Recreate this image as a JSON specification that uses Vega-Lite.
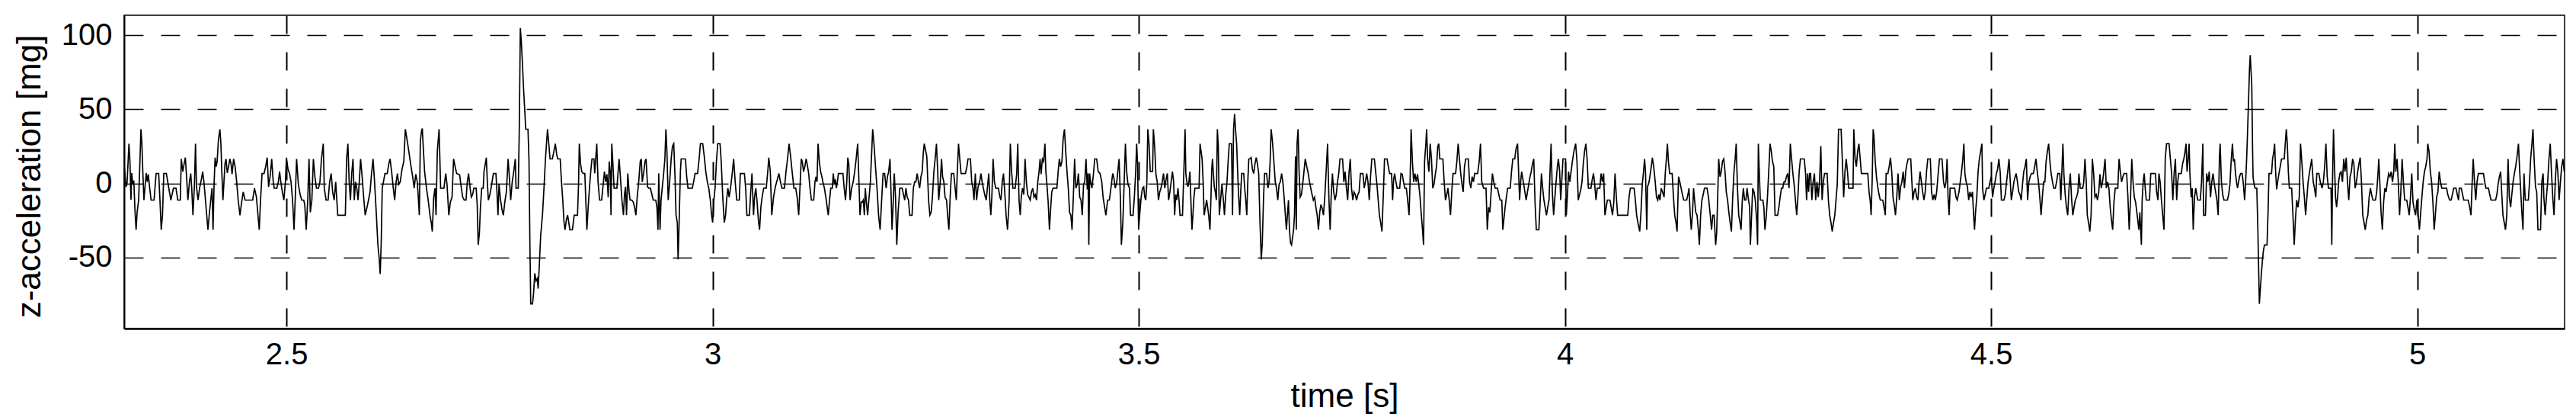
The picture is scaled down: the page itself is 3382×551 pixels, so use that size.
{
"$schema": "https://vega.github.io/schema/vega-lite/v6.json",
"width": 3204,
"height": 411,
"autosize": {"type": "none"},
"padding": {"left": 163, "top": 20, "right": 15, "bottom": 120},
"background": "white",
"config": {
  "font": "Liberation Sans",
  "view": {"stroke": "black", "strokeWidth": 1.5}
},
"data": {"values": [
{"t":2.3096,"a":13.1},{"t":2.3105,"a":6.2},{"t":2.3117,"a":-2.4},{"t":2.3129,"a":-0.7},{"t":2.3141,"a":13.1},{"t":2.3152,"a":26.8},{"t":2.3164,"a":14.8},{"t":2.3176,"a":-11},{"t":2.3185,"a":7},{"t":2.3197,"a":-0.7},{"t":2.3209,"a":1.9},{"t":2.3224,"a":-19.6},{"t":2.3236,"a":-31.4},{"t":2.3248,"a":-19.6},{"t":2.3266,"a":-11.3},{"t":2.3281,"a":14.8},{"t":2.3293,"a":36.6},{"t":2.3304,"a":26.8},{"t":2.3316,"a":6.2},{"t":2.3328,"a":-11.3},{"t":2.3343,"a":-0.7},{"t":2.3355,"a":7},{"t":2.3367,"a":1},{"t":2.3379,"a":6.2},{"t":2.3394,"a":-2.4},{"t":2.3412,"a":-11.3},{"t":2.3447,"a":-11.3},{"t":2.3471,"a":6.7},{"t":2.3501,"a":6.7},{"t":2.3516,"a":-11.3},{"t":2.3531,"a":-31.4},{"t":2.3546,"a":-21.3},{"t":2.3561,"a":6.7},{"t":2.3591,"a":6.7},{"t":2.3620,"a":-3.3},{"t":2.3644,"a":-11.3},{"t":2.3674,"a":-3.3},{"t":2.3704,"a":-3.3},{"t":2.3725,"a":-11.3},{"t":2.3755,"a":-11.3},{"t":2.3766,"a":16.5},{"t":2.3784,"a":7.9},{"t":2.3799,"a":13.1},{"t":2.3814,"a":17.4},{"t":2.3832,"a":1},{"t":2.3844,"a":-11.3},{"t":2.3862,"a":1},{"t":2.3877,"a":6.7},{"t":2.3889,"a":-3.3},{"t":2.3903,"a":-21.5},{"t":2.3921,"a":-0.7},{"t":2.3933,"a":26.8},{"t":2.3945,"a":-2.4},{"t":2.3963,"a":-11.3},{"t":2.3981,"a":-3.3},{"t":2.4002,"a":2.7},{"t":2.4017,"a":7.9},{"t":2.4032,"a":1},{"t":2.4052,"a":-12.7},{"t":2.4079,"a":-31.4},{"t":2.4094,"a":-21.5},{"t":2.4112,"a":-11.3},{"t":2.4127,"a":-3.3},{"t":2.4139,"a":-31.4},{"t":2.4151,"a":-0.7},{"t":2.4163,"a":17.4},{"t":2.4175,"a":11.3},{"t":2.4187,"a":14.8},{"t":2.4201,"a":28.5},{"t":2.4219,"a":36.6},{"t":2.4231,"a":26.8},{"t":2.4243,"a":6.2},{"t":2.4255,"a":-11.3},{"t":2.4267,"a":1},{"t":2.4279,"a":13.1},{"t":2.4291,"a":16.5},{"t":2.4306,"a":7},{"t":2.4321,"a":11.3},{"t":2.4336,"a":16.5},{"t":2.4350,"a":13.1},{"t":2.4362,"a":6.2},{"t":2.4380,"a":16.5},{"t":2.4398,"a":11.3},{"t":2.4416,"a":1},{"t":2.4434,"a":-11.3},{"t":2.4455,"a":-21.5},{"t":2.4470,"a":-14.4},{"t":2.4493,"a":-5.8},{"t":2.4514,"a":-11.3},{"t":2.4604,"a":-11.3},{"t":2.4625,"a":-3.3},{"t":2.4648,"a":-9.3},{"t":2.4666,"a":-21.5},{"t":2.4681,"a":-31.4},{"t":2.4696,"a":-11.3},{"t":2.4714,"a":6.7},{"t":2.4738,"a":6.7},{"t":2.4756,"a":11.3},{"t":2.4774,"a":17.4},{"t":2.4791,"a":-2.4},{"t":2.4812,"a":6.2},{"t":2.4827,"a":16.5},{"t":2.4845,"a":1},{"t":2.4857,"a":-3.3},{"t":2.4887,"a":-3.3},{"t":2.4905,"a":1},{"t":2.4920,"a":7.9},{"t":2.4934,"a":1},{"t":2.4952,"a":-5.8},{"t":2.4970,"a":-11.3},{"t":2.4988,"a":1},{"t":2.5000,"a":17.4},{"t":2.5018,"a":9.6},{"t":2.5036,"a":6.7},{"t":2.5054,"a":1},{"t":2.5072,"a":-11.3},{"t":2.5089,"a":-31.4},{"t":2.5104,"a":-9.3},{"t":2.5119,"a":16.5},{"t":2.5140,"a":-0.7},{"t":2.5161,"a":-7.6},{"t":2.5179,"a":-11.3},{"t":2.5203,"a":-11.3},{"t":2.5215,"a":-14.4},{"t":2.5232,"a":-31.4},{"t":2.5250,"a":-11.3},{"t":2.5265,"a":16.5},{"t":2.5280,"a":-19.6},{"t":2.5298,"a":-11.3},{"t":2.5316,"a":16.5},{"t":2.5334,"a":4.5},{"t":2.5352,"a":-3.3},{"t":2.5376,"a":-3.3},{"t":2.5393,"a":1},{"t":2.5411,"a":16.5},{"t":2.5432,"a":26.8},{"t":2.5444,"a":-3.3},{"t":2.5465,"a":-11.3},{"t":2.5489,"a":-11.3},{"t":2.5507,"a":1},{"t":2.5525,"a":6.7},{"t":2.5542,"a":-5.8},{"t":2.5560,"a":-11.3},{"t":2.5578,"a":1},{"t":2.5602,"a":-21.5},{"t":2.5691,"a":-21.5},{"t":2.5706,"a":16.5},{"t":2.5721,"a":26.8},{"t":2.5736,"a":1},{"t":2.5751,"a":-11.3},{"t":2.5766,"a":6.7},{"t":2.5781,"a":16.5},{"t":2.5796,"a":-11.3},{"t":2.5811,"a":1},{"t":2.5826,"a":-3.3},{"t":2.5840,"a":-11.3},{"t":2.5855,"a":1},{"t":2.5870,"a":16.5},{"t":2.5888,"a":4.5},{"t":2.5906,"a":-9.3},{"t":2.5924,"a":-21.5},{"t":2.5945,"a":-16.2},{"t":2.5963,"a":-11.3},{"t":2.5981,"a":-5.8},{"t":2.5998,"a":6.2},{"t":2.6016,"a":16.5},{"t":2.6034,"a":1},{"t":2.6055,"a":-21.3},{"t":2.6073,"a":-41.6},{"t":2.6088,"a":-50.5},{"t":2.6100,"a":-61.2},{"t":2.6112,"a":-40.2},{"t":2.6124,"a":-3.3},{"t":2.6138,"a":1},{"t":2.6156,"a":6.7},{"t":2.6183,"a":6.7},{"t":2.6201,"a":13.1},{"t":2.6216,"a":16.5},{"t":2.6234,"a":7.9},{"t":2.6252,"a":-2.4},{"t":2.6270,"a":-11.3},{"t":2.6287,"a":1},{"t":2.6302,"a":6.7},{"t":2.6317,"a":-0.7},{"t":2.6335,"a":1},{"t":2.6356,"a":9.6},{"t":2.6377,"a":14.8},{"t":2.6395,"a":36.6},{"t":2.6413,"a":30.2},{"t":2.6436,"a":21.6},{"t":2.6457,"a":13.1},{"t":2.6481,"a":4.5},{"t":2.6499,"a":-3.3},{"t":2.6517,"a":6.2},{"t":2.6535,"a":1},{"t":2.6547,"a":-9.3},{"t":2.6559,"a":-21.5},{"t":2.6571,"a":28.5},{"t":2.6585,"a":35.4},{"t":2.6594,"a":37.1},{"t":2.6603,"a":26.8},{"t":2.6621,"a":7.9},{"t":2.6645,"a":-4.1},{"t":2.6663,"a":-11.3},{"t":2.6684,"a":-21.5},{"t":2.6699,"a":-26.5},{"t":2.6711,"a":-32.5},{"t":2.6728,"a":-9.3},{"t":2.6743,"a":-3.3},{"t":2.6755,"a":-21.5},{"t":2.6770,"a":21.6},{"t":2.6791,"a":36.6},{"t":2.6809,"a":-3.3},{"t":2.6848,"a":-3.3},{"t":2.6869,"a":6.7},{"t":2.6884,"a":-0.7},{"t":2.6905,"a":-21.5},{"t":2.6923,"a":-12.7},{"t":2.6943,"a":-9.3},{"t":2.6961,"a":16.5},{"t":2.6979,"a":11.3},{"t":2.6997,"a":6.7},{"t":2.7032,"a":5.8},{"t":2.7050,"a":-2.4},{"t":2.7068,"a":-9.3},{"t":2.7086,"a":-11.3},{"t":2.7107,"a":-11.3},{"t":2.7122,"a":1},{"t":2.7137,"a":6.7},{"t":2.7155,"a":-3.3},{"t":2.7169,"a":-9.3},
{"t":2.7184,"a":-7.6},{"t":2.7199,"a":-3.3},{"t":2.7226,"a":-3.3},{"t":2.7238,"a":-14.4},{"t":2.7250,"a":-41.6},{"t":2.7264,"a":-33.3},{"t":2.7276,"a":-16.2},{"t":2.7291,"a":-3.3},{"t":2.7309,"a":-3.3},{"t":2.7318,"a":7.9},{"t":2.7333,"a":13.1},{"t":2.7345,"a":17.4},{"t":2.7357,"a":1},{"t":2.7369,"a":-11.3},{"t":2.7387,"a":-7.6},{"t":2.7408,"a":-0.7},{"t":2.7428,"a":6.7},{"t":2.7458,"a":6.7},{"t":2.7470,"a":-5.8},{"t":2.7482,"a":-21.5},{"t":2.7494,"a":-0.7},{"t":2.7512,"a":-11.3},{"t":2.7530,"a":-17.9},{"t":2.7545,"a":-21.5},{"t":2.7562,"a":-12.7},{"t":2.7580,"a":-5.8},{"t":2.7601,"a":16.5},{"t":2.7619,"a":1},{"t":2.7631,"a":-11.3},{"t":2.7649,"a":1},{"t":2.7667,"a":7.9},{"t":2.7685,"a":16.5},{"t":2.7694,"a":-3.3},{"t":2.7720,"a":-3.3},{"t":2.7732,"a":37.1},{"t":2.7744,"a":105},{"t":2.7756,"a":95.5},{"t":2.7768,"a":81.8},{"t":2.7783,"a":62.9},{"t":2.7798,"a":47.4},{"t":2.7807,"a":36.6},{"t":2.7834,"a":36.6},{"t":2.7846,"a":14.8},{"t":2.7857,"a":-43.6},{"t":2.7866,"a":-81.4},{"t":2.7887,"a":-81.4},{"t":2.7899,"a":-74.6},{"t":2.7914,"a":-60.8},{"t":2.7929,"a":-66},{"t":2.7944,"a":-64.3},{"t":2.7953,"a":-71.1},{"t":2.7965,"a":-57.4},{"t":2.7983,"a":-35.1},{"t":2.8004,"a":-21.3},{"t":2.8024,"a":-0.7},{"t":2.8039,"a":16.5},{"t":2.8051,"a":26.8},{"t":2.8063,"a":36.6},{"t":2.8078,"a":26.8},{"t":2.8093,"a":16.5},{"t":2.8120,"a":16.5},{"t":2.8138,"a":21.6},{"t":2.8155,"a":26.8},{"t":2.8170,"a":19.9},{"t":2.8182,"a":16.5},{"t":2.8212,"a":16.5},{"t":2.8227,"a":1},{"t":2.8242,"a":-11.3},{"t":2.8257,"a":-26.5},{"t":2.8269,"a":-31.4},{"t":2.8284,"a":-24.7},{"t":2.8299,"a":-21.5},{"t":2.8313,"a":-26.5},{"t":2.8325,"a":-31.4},{"t":2.8355,"a":-31.4},{"t":2.8376,"a":-21.5},{"t":2.8415,"a":-21.5},{"t":2.8427,"a":-0.7},{"t":2.8436,"a":26.8},{"t":2.8451,"a":13.1},{"t":2.8465,"a":7.9},{"t":2.8483,"a":6.7},{"t":2.8501,"a":6.7},{"t":2.8513,"a":-12.7},{"t":2.8525,"a":-31.4},{"t":2.8540,"a":-16.2},{"t":2.8555,"a":-3.3},{"t":2.8570,"a":7.9},{"t":2.8585,"a":16.5},{"t":2.8608,"a":16.5},{"t":2.8617,"a":6.7},{"t":2.8629,"a":17.4},{"t":2.8641,"a":26.8},{"t":2.8656,"a":1},{"t":2.8674,"a":-11.3},{"t":2.8698,"a":-11.3},{"t":2.8716,"a":-0.7},{"t":2.8731,"a":7.9},{"t":2.8746,"a":1},{"t":2.8760,"a":6.2},{"t":2.8775,"a":-9.3},{"t":2.8787,"a":14.8},{"t":2.8799,"a":7.9},{"t":2.8808,"a":-21.5},{"t":2.8817,"a":26.8},{"t":2.8832,"a":11.3},{"t":2.8844,"a":-3.3},{"t":2.8877,"a":-3.3},{"t":2.8889,"a":6.2},{"t":2.8903,"a":16.5},{"t":2.8918,"a":4.5},{"t":2.8936,"a":-11.3},{"t":2.8954,"a":-21.5},{"t":2.8966,"a":-7.6},{"t":2.8978,"a":-2.4},{"t":2.8990,"a":-21.5},{"t":2.9005,"a":6.7},{"t":2.9020,"a":-5.8},{"t":2.9032,"a":-11.3},{"t":2.9052,"a":-11.3},{"t":2.9070,"a":-12.7},{"t":2.9085,"a":-16.2},{"t":2.9100,"a":-21.5},{"t":2.9115,"a":-9.3},{"t":2.9133,"a":1},{"t":2.9151,"a":14.8},{"t":2.9163,"a":16.5},{"t":2.9175,"a":1},{"t":2.9193,"a":7.9},{"t":2.9207,"a":14.8},{"t":2.9219,"a":16.5},{"t":2.9237,"a":-2.4},{"t":2.9252,"a":-3.3},{"t":2.9270,"a":-3.3},{"t":2.9288,"a":-7.6},{"t":2.9303,"a":-11.3},{"t":2.9333,"a":-11.3},{"t":2.9347,"a":-16.2},{"t":2.9359,"a":-31.4},{"t":2.9368,"a":6.7},{"t":2.9383,"a":-31.4},{"t":2.9395,"a":-11.3},{"t":2.9410,"a":-2.4},{"t":2.9425,"a":6.2},{"t":2.9440,"a":16.5},{"t":2.9452,"a":36.6},{"t":2.9464,"a":21.6},{"t":2.9479,"a":-11.3},{"t":2.9494,"a":-0.7},{"t":2.9514,"a":16.5},{"t":2.9529,"a":25.1},{"t":2.9544,"a":26.8},{"t":2.9559,"a":4.5},{"t":2.9571,"a":-21.5},{"t":2.9586,"a":-26.5},{"t":2.9595,"a":-51.4},{"t":2.9607,"a":-26.5},{"t":2.9622,"a":7.9},{"t":2.9631,"a":16.5},{"t":2.9681,"a":16.5},{"t":2.9696,"a":4.5},{"t":2.9711,"a":-3.3},{"t":2.9762,"a":-3.3},{"t":2.9777,"a":1},{"t":2.9794,"a":6.7},{"t":2.9824,"a":6.7},{"t":2.9842,"a":16.5},{"t":2.9857,"a":26.8},{"t":2.9884,"a":26.8},{"t":2.9902,"a":18.2},{"t":2.9920,"a":7.9},{"t":2.9938,"a":1},{"t":2.9955,"a":-3.3},{"t":2.9973,"a":-11.3},{"t":2.9988,"a":-21.3},{"t":3.0000,"a":-26.5},{"t":3.0015,"a":-11.3},{"t":3.0030,"a":-2.4},{"t":3.0045,"a":14.8},{"t":3.0060,"a":26.8},{"t":3.0087,"a":26.8},{"t":3.0101,"a":14.8},{"t":3.0119,"a":-9.3},{"t":3.0137,"a":-26.5},{"t":3.0152,"a":-21.5},{"t":3.0164,"a":-11.3},{"t":3.0179,"a":-3.3},{"t":3.0194,"a":-9.3},{"t":3.0212,"a":-2.4},{"t":3.0230,"a":6.7},{"t":3.0247,"a":16.5},{"t":3.0265,"a":1},{"t":3.0283,"a":-11.3},{"t":3.0313,"a":-11.3},{"t":3.0325,"a":6.7},{"t":3.0373,"a":6.7},{"t":3.0388,"a":-3.3},{"t":3.0402,"a":-21.5},{"t":3.0432,"a":-21.5},{"t":3.0447,"a":-5.8},{"t":3.0462,"a":6.7},{"t":3.0480,"a":-21.5},{"t":3.0492,"a":-9.3},{"t":3.0507,"a":-3.3},{"t":3.0522,"a":-12.7},{"t":3.0537,"a":-24.7},{"t":3.0551,"a":-31.4},{"t":3.0566,"a":-16.2},{"t":3.0581,"a":-9.3},{"t":3.0599,"a":-3.3},{"t":3.0629,"a":-3.3},{"t":3.0647,"a":7.9},{"t":3.0659,"a":17.4},{"t":3.0677,"a":7.9},{"t":3.0694,"a":-21.5},{"t":3.0715,"a":-9.3},{"t":3.0736,"a":-2.4},{"t":3.0760,"a":2.7},{"t":3.0778,"a":6.7},{"t":3.0796,"a":1},{"t":3.0814,"a":-3.3},{"t":3.0843,"a":-3.3},{"t":3.0861,"a":7.9},{"t":3.0879,"a":16.5},{"t":3.0897,"a":26.8},{"t":3.0915,"a":18.2},{"t":3.0933,"a":7.9},{"t":3.0954,"a":-3.3},{"t":3.0975,"a":-3.3},{"t":3.0992,"a":-9.3},{"t":3.1010,"a":-21.5},{"t":3.1028,"a":1},{"t":3.1040,"a":16.5},{"t":3.1052,"a":14.8},{"t":3.1067,"a":7.9},{"t":3.1082,"a":11.3},{"t":3.1097,"a":16.5},{"t":3.1112,"a":12.2},{"t":3.1127,"a":6.7},{"t":3.1141,"a":-2.4},{"t":3.1159,"a":-11.3},{"t":3.1186,"a":-11.3},{"t":3.1201,"a":1},{"t":3.1213,"a":4.5},{"t":3.1225,"a":1},{"t":3.1237,"a":26.8},{"t":3.1252,"a":14.8},{"t":3.1267,"a":7.9},{"t":3.1282,"a":4.5},
{"t":3.1297,"a":0},{"t":3.1312,"a":-3.3},{"t":3.1333,"a":-11.3},{"t":3.1357,"a":-21.5},{"t":3.1372,"a":-11.3},{"t":3.1386,"a":-3.3},{"t":3.1404,"a":-3.3},{"t":3.1416,"a":6.7},{"t":3.1428,"a":-0.7},{"t":3.1440,"a":2.7},{"t":3.1452,"a":-3.3},{"t":3.1464,"a":1},{"t":3.1476,"a":6.7},{"t":3.1529,"a":6.7},{"t":3.1544,"a":-3.3},{"t":3.1559,"a":-11.3},{"t":3.1574,"a":1},{"t":3.1586,"a":17.4},{"t":3.1598,"a":13.1},{"t":3.1613,"a":-11.3},{"t":3.1631,"a":-3.3},{"t":3.1649,"a":1},{"t":3.1667,"a":7.9},{"t":3.1684,"a":16.5},{"t":3.1702,"a":26.8},{"t":3.1717,"a":1},{"t":3.1729,"a":-21.5},{"t":3.1744,"a":-12.7},{"t":3.1756,"a":-12.7},{"t":3.1768,"a":-11.3},{"t":3.1780,"a":-21.5},{"t":3.1792,"a":-3.3},{"t":3.1804,"a":-12.7},{"t":3.1819,"a":-21.5},{"t":3.1833,"a":-11.3},{"t":3.1851,"a":1},{"t":3.1863,"a":16.5},{"t":3.1878,"a":36.6},{"t":3.1893,"a":26.8},{"t":3.1911,"a":11.3},{"t":3.1929,"a":-3.3},{"t":3.1947,"a":-21.5},{"t":3.1965,"a":-31.4},{"t":3.1982,"a":-12.7},{"t":3.2000,"a":6.7},{"t":3.2018,"a":6.7},{"t":3.2036,"a":-3.3},{"t":3.2051,"a":4.5},{"t":3.2066,"a":7.9},{"t":3.2081,"a":16.5},{"t":3.2096,"a":-11.3},{"t":3.2105,"a":-31.4},{"t":3.2119,"a":-12.7},{"t":3.2131,"a":6.7},{"t":3.2146,"a":-9.3},{"t":3.2161,"a":-41.6},{"t":3.2176,"a":-19.6},{"t":3.2197,"a":-3.3},{"t":3.2224,"a":-3.3},{"t":3.2239,"a":-7.6},{"t":3.2254,"a":-11.3},{"t":3.2268,"a":-3.3},{"t":3.2283,"a":-9.3},{"t":3.2298,"a":-11.3},{"t":3.2313,"a":-21.5},{"t":3.2340,"a":-21.5},{"t":3.2355,"a":-3.3},{"t":3.2370,"a":1},{"t":3.2385,"a":1},{"t":3.2400,"a":6.7},{"t":3.2415,"a":1},{"t":3.2429,"a":-3.3},{"t":3.2444,"a":4.5},{"t":3.2459,"a":7.9},{"t":3.2471,"a":19.9},{"t":3.2483,"a":26.8},{"t":3.2495,"a":23.4},{"t":3.2513,"a":18.2},{"t":3.2534,"a":-11.3},{"t":3.2549,"a":-21.5},{"t":3.2564,"a":-19.6},{"t":3.2579,"a":-9.3},{"t":3.2596,"a":7.9},{"t":3.2611,"a":16.5},{"t":3.2626,"a":26.8},{"t":3.2641,"a":7.9},{"t":3.2653,"a":-11.3},{"t":3.2671,"a":1},{"t":3.2686,"a":16.5},{"t":3.2698,"a":4.5},{"t":3.2713,"a":1},{"t":3.2727,"a":-9.3},{"t":3.2745,"a":-11.3},{"t":3.2757,"a":-21.5},{"t":3.2772,"a":-31.4},{"t":3.2787,"a":-9.3},{"t":3.2802,"a":6.7},{"t":3.2829,"a":6.7},{"t":3.2844,"a":-2.4},{"t":3.2859,"a":-11.3},{"t":3.2870,"a":6.2},{"t":3.2885,"a":26.8},{"t":3.2900,"a":16.5},{"t":3.2915,"a":6.7},{"t":3.2966,"a":6.7},{"t":3.2984,"a":11.3},{"t":3.2996,"a":16.5},{"t":3.3025,"a":16.5},{"t":3.3040,"a":1},{"t":3.3055,"a":-3.3},{"t":3.3067,"a":-11.3},{"t":3.3082,"a":6.7},{"t":3.3097,"a":-11.3},{"t":3.3115,"a":-2.4},{"t":3.3133,"a":1},{"t":3.3148,"a":6.7},{"t":3.3162,"a":1},{"t":3.3177,"a":-3.3},{"t":3.3192,"a":-7.6},{"t":3.3210,"a":-11.3},{"t":3.3228,"a":-0.7},{"t":3.3240,"a":6.7},{"t":3.3252,"a":-11.3},{"t":3.3264,"a":-21.5},{"t":3.3276,"a":-9.3},{"t":3.3291,"a":16.5},{"t":3.3306,"a":1},{"t":3.3323,"a":-3.3},{"t":3.3353,"a":-3.3},{"t":3.3371,"a":-9.3},{"t":3.3383,"a":-11.3},{"t":3.3398,"a":1},{"t":3.3413,"a":6.7},{"t":3.3431,"a":-9.3},{"t":3.3443,"a":-21.5},{"t":3.3460,"a":-31.4},{"t":3.3478,"a":-12.7},{"t":3.3493,"a":26.8},{"t":3.3508,"a":7.9},{"t":3.3523,"a":-3.3},{"t":3.3550,"a":-3.3},{"t":3.3568,"a":6.7},{"t":3.3580,"a":26.8},{"t":3.3595,"a":-11.3},{"t":3.3609,"a":-21.5},{"t":3.3621,"a":-9.3},{"t":3.3636,"a":-3.3},{"t":3.3651,"a":-7.6},{"t":3.3666,"a":16.5},{"t":3.3681,"a":1},{"t":3.3696,"a":-7.6},{"t":3.3711,"a":-9.3},{"t":3.3726,"a":-11.3},{"t":3.3741,"a":-5.8},{"t":3.3756,"a":-3.3},{"t":3.3770,"a":-9.3},{"t":3.3785,"a":-7.6},{"t":3.3800,"a":-11.3},{"t":3.3815,"a":1},{"t":3.3830,"a":7.9},{"t":3.3842,"a":16.5},{"t":3.3854,"a":6.2},{"t":3.3869,"a":16.5},{"t":3.3884,"a":14.8},{"t":3.3899,"a":26.8},{"t":3.3910,"a":7.9},{"t":3.3922,"a":-0.7},{"t":3.3937,"a":-12.7},{"t":3.3952,"a":-31.4},{"t":3.3967,"a":-16.2},{"t":3.3979,"a":-5.8},{"t":3.3994,"a":-3.3},{"t":3.4039,"a":-3.3},{"t":3.4054,"a":7.9},{"t":3.4068,"a":16.5},{"t":3.4083,"a":11.3},{"t":3.4098,"a":14.8},{"t":3.4113,"a":30.2},{"t":3.4128,"a":36.6},{"t":3.4143,"a":21.6},{"t":3.4158,"a":7.9},{"t":3.4173,"a":-3.3},{"t":3.4188,"a":-19.6},{"t":3.4203,"a":-21.5},{"t":3.4217,"a":-31.4},{"t":3.4232,"a":-9.3},{"t":3.4247,"a":16.5},{"t":3.4262,"a":-3.3},{"t":3.4277,"a":-0.7},{"t":3.4292,"a":6.7},{"t":3.4307,"a":-9.3},{"t":3.4322,"a":-11.3},{"t":3.4337,"a":-21.5},{"t":3.4352,"a":-0.7},{"t":3.4366,"a":1},{"t":3.4381,"a":16.5},{"t":3.4396,"a":-4.1},{"t":3.4405,"a":6.7},{"t":3.4414,"a":-41.6},{"t":3.4423,"a":6.7},{"t":3.4435,"a":1},{"t":3.4450,"a":-3.3},{"t":3.4468,"a":6.2},{"t":3.4483,"a":16.5},{"t":3.4506,"a":16.5},{"t":3.4524,"a":7.9},{"t":3.4545,"a":6.7},{"t":3.4566,"a":1},{"t":3.4581,"a":-9.3},{"t":3.4599,"a":-16.2},{"t":3.4614,"a":-21.5},{"t":3.4635,"a":-11.3},{"t":3.4655,"a":-11.3},{"t":3.4673,"a":-3.3},{"t":3.4694,"a":6.7},{"t":3.4706,"a":4.5},{"t":3.4724,"a":-3.3},{"t":3.4742,"a":1},{"t":3.4754,"a":7.9},{"t":3.4769,"a":16.5},{"t":3.4784,"a":-9.3},{"t":3.4796,"a":-41.6},{"t":3.4813,"a":-26.5},{"t":3.4828,"a":-0.7},{"t":3.4843,"a":26.8},{"t":3.4858,"a":7.9},{"t":3.4873,"a":-0.7},{"t":3.4891,"a":-3.3},{"t":3.4903,"a":-21.5},{"t":3.4933,"a":-21.5},{"t":3.4948,"a":-9.3},{"t":3.4963,"a":6.7},{"t":3.4975,"a":26.8},{"t":3.4986,"a":13.1},{"t":3.4998,"a":-31.4},{"t":3.5013,"a":-19.6},{"t":3.5028,"a":-9.3},{"t":3.5043,"a":-3.3},{"t":3.5058,"a":-2.4},{"t":3.5070,"a":-9.3},{"t":3.5082,"a":-11.3},{"t":3.5094,"a":-0.7},{"t":3.5106,"a":36.6},{"t":3.5120,"a":26.8},{"t":3.5135,"a":7.9},{"t":3.5162,"a":7.9},{"t":3.5171,"a":36.6},{"t":3.5186,"a":25.1},{"t":3.5201,"a":6.2},{"t":3.5216,"a":1},{"t":3.5231,"a":-11.3},{"t":3.5246,"a":-5.8},{"t":3.5260,"a":-3.3},{"t":3.5275,"a":1},{"t":3.5290,"a":6.7},{"t":3.5305,"a":-3.3},{"t":3.5320,"a":2.7},{"t":3.5335,"a":6.7},{"t":3.5350,"a":-11.3},{"t":3.5365,"a":-5.8},{"t":3.5380,"a":1},{"t":3.5395,"a":7.9},
{"t":3.5409,"a":1},{"t":3.5421,"a":-21.5},{"t":3.5433,"a":-7.6},{"t":3.5445,"a":-11.3},{"t":3.5460,"a":-3.3},{"t":3.5472,"a":-11.3},{"t":3.5484,"a":-21.5},{"t":3.5513,"a":-21.5},{"t":3.5525,"a":1},{"t":3.5534,"a":18.2},{"t":3.5543,"a":36.6},{"t":3.5552,"a":6.7},{"t":3.5564,"a":1},{"t":3.5576,"a":-2.4},{"t":3.5588,"a":1},{"t":3.5600,"a":7.9},{"t":3.5612,"a":-12.7},{"t":3.5624,"a":-31.4},{"t":3.5635,"a":-21.5},{"t":3.5647,"a":-9.3},{"t":3.5659,"a":-3.3},{"t":3.5707,"a":-3.3},{"t":3.5719,"a":26.8},{"t":3.5731,"a":21.6},{"t":3.5743,"a":16.5},{"t":3.5755,"a":1},{"t":3.5767,"a":-21.5},{"t":3.5782,"a":-16.2},{"t":3.5796,"a":-11.3},{"t":3.5808,"a":-16.2},{"t":3.5820,"a":-21.5},{"t":3.5835,"a":-31.4},{"t":3.5847,"a":-9.3},{"t":3.5856,"a":9.6},{"t":3.5865,"a":16.5},{"t":3.5874,"a":7.9},{"t":3.5886,"a":-2.4},{"t":3.5898,"a":-5.8},{"t":3.5910,"a":-11.3},{"t":3.5922,"a":36.6},{"t":3.5933,"a":25.1},{"t":3.5945,"a":-21.5},{"t":3.5960,"a":-11.3},{"t":3.5975,"a":-0.7},{"t":3.5993,"a":-11.3},{"t":3.6005,"a":-21.5},{"t":3.6020,"a":-7.6},{"t":3.6035,"a":1},{"t":3.6050,"a":16.5},{"t":3.6062,"a":26.8},{"t":3.6088,"a":26.8},{"t":3.6100,"a":-21.5},{"t":3.6112,"a":36.6},{"t":3.6124,"a":46.9},{"t":3.6136,"a":35.4},{"t":3.6148,"a":26.8},{"t":3.6160,"a":7.9},{"t":3.6172,"a":-9.3},{"t":3.6184,"a":-21.5},{"t":3.6196,"a":-5.8},{"t":3.6208,"a":6.7},{"t":3.6231,"a":6.7},{"t":3.6243,"a":-3.3},{"t":3.6255,"a":-11.3},{"t":3.6267,"a":-21.5},{"t":3.6279,"a":1},{"t":3.6291,"a":16.5},{"t":3.6303,"a":16.5},{"t":3.6318,"a":17.4},{"t":3.6333,"a":9.6},{"t":3.6348,"a":6.7},{"t":3.6363,"a":13.1},{"t":3.6378,"a":17.4},{"t":3.6392,"a":13.1},{"t":3.6407,"a":6.7},{"t":3.6422,"a":-26.5},{"t":3.6437,"a":-51.4},{"t":3.6449,"a":-40.2},{"t":3.6464,"a":-9.3},{"t":3.6476,"a":6.7},{"t":3.6500,"a":6.7},{"t":3.6515,"a":-3.3},{"t":3.6529,"a":1},{"t":3.6541,"a":14.8},{"t":3.6553,"a":36.6},{"t":3.6568,"a":28.5},{"t":3.6583,"a":16.5},{"t":3.6601,"a":1},{"t":3.6616,"a":-3.3},{"t":3.6631,"a":-11.3},{"t":3.6646,"a":-0.7},{"t":3.6661,"a":1},{"t":3.6676,"a":6.7},{"t":3.6690,"a":1},{"t":3.6705,"a":-9.3},{"t":3.6720,"a":-21.5},{"t":3.6732,"a":-31.4},{"t":3.6744,"a":-21.5},{"t":3.6756,"a":-11.3},{"t":3.6768,"a":-31.4},{"t":3.6780,"a":-40.2},{"t":3.6792,"a":-41.6},{"t":3.6804,"a":-36.8},{"t":3.6816,"a":-31.4},{"t":3.6827,"a":-21.5},{"t":3.6839,"a":18.2},{"t":3.6848,"a":-31.4},{"t":3.6857,"a":26.8},{"t":3.6869,"a":36.6},{"t":3.6881,"a":7.9},{"t":3.6893,"a":-9.3},{"t":3.6908,"a":-7.6},{"t":3.6923,"a":-0.7},{"t":3.6938,"a":7.9},{"t":3.6953,"a":16.5},{"t":3.6971,"a":11.3},{"t":3.6988,"a":6.7},{"t":3.7003,"a":1},{"t":3.7018,"a":-3.3},{"t":3.7033,"a":-7.6},{"t":3.7048,"a":-11.3},{"t":3.7063,"a":-9.3},{"t":3.7078,"a":-16.2},{"t":3.7093,"a":-21.5},{"t":3.7108,"a":-31.4},{"t":3.7123,"a":-19.6},{"t":3.7137,"a":-14.4},{"t":3.7152,"a":-17},{"t":3.7167,"a":-21.5},{"t":3.7182,"a":-9.3},{"t":3.7197,"a":6.7},{"t":3.7215,"a":26.8},{"t":3.7230,"a":-9.3},{"t":3.7245,"a":-31.4},{"t":3.7257,"a":-9.3},{"t":3.7272,"a":6.7},{"t":3.7287,"a":-5.8},{"t":3.7302,"a":-11.3},{"t":3.7317,"a":-7.6},{"t":3.7332,"a":1},{"t":3.7346,"a":6.7},{"t":3.7361,"a":16.5},{"t":3.7391,"a":16.5},{"t":3.7406,"a":1},{"t":3.7421,"a":7.9},{"t":3.7436,"a":-3.3},{"t":3.7451,"a":-11.3},{"t":3.7466,"a":6.7},{"t":3.7481,"a":16.5},{"t":3.7496,"a":-3.3},{"t":3.7511,"a":-11.3},{"t":3.7525,"a":-5.8},{"t":3.7540,"a":-7.6},{"t":3.7555,"a":-11.3},{"t":3.7570,"a":-7.6},{"t":3.7585,"a":-5.8},{"t":3.7600,"a":6.7},{"t":3.7630,"a":6.7},{"t":3.7645,"a":-3.3},{"t":3.7659,"a":1},{"t":3.7674,"a":6.7},{"t":3.7689,"a":1},{"t":3.7704,"a":-11.3},{"t":3.7719,"a":4.5},{"t":3.7734,"a":16.5},{"t":3.7764,"a":16.5},{"t":3.7779,"a":7.9},{"t":3.7794,"a":-0.7},{"t":3.7809,"a":-11.3},{"t":3.7823,"a":-21.5},{"t":3.7838,"a":-26.5},{"t":3.7853,"a":-32.5},{"t":3.7868,"a":-9.3},{"t":3.7883,"a":16.5},{"t":3.7913,"a":16.5},{"t":3.7928,"a":11.3},{"t":3.7943,"a":6.7},{"t":3.7966,"a":6.7},{"t":3.7978,"a":-11.3},{"t":3.7990,"a":2.7},{"t":3.8002,"a":6.7},{"t":3.8017,"a":1},{"t":3.8031,"a":-3.3},{"t":3.8061,"a":-3.3},{"t":3.8076,"a":6.7},{"t":3.8091,"a":6.2},{"t":3.8106,"a":1},{"t":3.8121,"a":-3.3},{"t":3.8139,"a":-3.3},{"t":3.8151,"a":-9.3},{"t":3.8171,"a":-21.5},{"t":3.8183,"a":1},{"t":3.8195,"a":36.6},{"t":3.8210,"a":14.8},{"t":3.8225,"a":1},{"t":3.8240,"a":6.7},{"t":3.8255,"a":1},{"t":3.8270,"a":6.2},{"t":3.8285,"a":-0.7},{"t":3.8300,"a":-9.3},{"t":3.8315,"a":-21.5},{"t":3.8329,"a":-31.4},{"t":3.8341,"a":-41.6},{"t":3.8353,"a":14.8},{"t":3.8368,"a":26.8},{"t":3.8377,"a":36.6},{"t":3.8389,"a":16.5},{"t":3.8404,"a":7.9},{"t":3.8419,"a":26.8},{"t":3.8434,"a":16.5},{"t":3.8449,"a":-3.3},{"t":3.8464,"a":-0.7},{"t":3.8479,"a":6.2},{"t":3.8493,"a":11.3},{"t":3.8508,"a":25.1},{"t":3.8520,"a":26.8},{"t":3.8532,"a":16.5},{"t":3.8568,"a":16.5},{"t":3.8583,"a":1},{"t":3.8598,"a":-11.3},{"t":3.8613,"a":-7.6},{"t":3.8627,"a":-3.3},{"t":3.8642,"a":-11.3},{"t":3.8657,"a":-21.5},{"t":3.8672,"a":-5.8},{"t":3.8687,"a":6.7},{"t":3.8717,"a":6.7},{"t":3.8732,"a":14.8},{"t":3.8747,"a":26.8},{"t":3.8762,"a":16.5},{"t":3.8777,"a":6.7},{"t":3.8792,"a":-0.7},{"t":3.8806,"a":-5.8},{"t":3.8821,"a":11.3},{"t":3.8836,"a":16.5},{"t":3.8866,"a":16.5},{"t":3.8881,"a":1},{"t":3.8896,"a":-3.3},{"t":3.8911,"a":4.5},{"t":3.8926,"a":1},{"t":3.8941,"a":6.7},{"t":3.8976,"a":6.7},{"t":3.8994,"a":14.8},{"t":3.9009,"a":26.8},{"t":3.9024,"a":1},{"t":3.9045,"a":-3.3},{"t":3.9074,"a":-3.3},{"t":3.9089,"a":-31.4},{"t":3.9104,"a":-16.2},{"t":3.9119,"a":-19.6},{"t":3.9134,"a":-5.8},{"t":3.9149,"a":6.7},{"t":3.9164,"a":1},{"t":3.9182,"a":-3.3},{"t":3.9209,"a":-3.3},{"t":3.9224,"a":-7.6},{"t":3.9239,"a":-11.3},{"t":3.9259,"a":-11.3},{"t":3.9271,"a":-31.4},{"t":3.9283,"a":-24.7},{"t":3.9298,"a":-16.2},{"t":3.9313,"a":-9.3},{"t":3.9328,"a":-3.3},{"t":3.9358,"a":-3.3},{"t":3.9373,"a":7.9},{"t":3.9388,"a":16.5},{"t":3.9411,"a":16.5},{"t":3.9426,"a":23.4},{"t":3.9444,"a":26.8},{"t":3.9456,"a":7.9},{"t":3.9468,"a":-11.3},{"t":3.9480,"a":1},{"t":3.9492,"a":7.9},{"t":3.9507,"a":2.7},
{"t":3.9515,"a":0},{"t":3.9530,"a":-5.8},{"t":3.9545,"a":-11.3},{"t":3.9560,"a":-5.8},{"t":3.9575,"a":-0.7},{"t":3.9590,"a":4.5},{"t":3.9604,"a":7.9},{"t":3.9619,"a":13.1},{"t":3.9634,"a":16.5},{"t":3.9649,"a":-12.7},{"t":3.9664,"a":-31.4},{"t":3.9694,"a":-31.4},{"t":3.9709,"a":-12.7},{"t":3.9724,"a":6.7},{"t":3.9739,"a":-3.3},{"t":3.9753,"a":-11.3},{"t":3.9768,"a":-16.2},{"t":3.9783,"a":-21.5},{"t":3.9798,"a":-16.2},{"t":3.9813,"a":-11.3},{"t":3.9825,"a":7.9},{"t":3.9837,"a":26.8},{"t":3.9852,"a":-5.8},{"t":3.9867,"a":-21.5},{"t":3.9882,"a":-9.3},{"t":3.9896,"a":1},{"t":3.9911,"a":11.3},{"t":3.9923,"a":16.5},{"t":3.9938,"a":7.9},{"t":3.9950,"a":-11.3},{"t":3.9962,"a":1},{"t":3.9977,"a":16.5},{"t":4.0007,"a":16.5},{"t":4.0016,"a":-21.5},{"t":4.0028,"a":-9.3},{"t":4.0042,"a":7.9},{"t":4.0057,"a":1},{"t":4.0072,"a":7.9},{"t":4.0087,"a":14.8},{"t":4.0105,"a":21.6},{"t":4.0126,"a":26.8},{"t":4.0141,"a":14.8},{"t":4.0156,"a":-11.3},{"t":4.0171,"a":-7.6},{"t":4.0186,"a":-4.1},{"t":4.0200,"a":1},{"t":4.0215,"a":13.1},{"t":4.0230,"a":21.6},{"t":4.0245,"a":26.8},{"t":4.0260,"a":16.5},{"t":4.0275,"a":-3.3},{"t":4.0305,"a":-3.3},{"t":4.0320,"a":2.7},{"t":4.0335,"a":6.7},{"t":4.0349,"a":-0.7},{"t":4.0364,"a":-11.3},{"t":4.0379,"a":-3.3},{"t":4.0409,"a":-3.3},{"t":4.0424,"a":6.7},{"t":4.0439,"a":1},{"t":4.0454,"a":6.7},{"t":4.0469,"a":-21.5},{"t":4.0484,"a":-16.2},{"t":4.0498,"a":-11.3},{"t":4.0528,"a":-11.3},{"t":4.0543,"a":-16.2},{"t":4.0558,"a":-21.5},{"t":4.0573,"a":-12.7},{"t":4.0588,"a":6.7},{"t":4.0603,"a":-9.3},{"t":4.0618,"a":-21.5},{"t":4.0737,"a":-21.5},{"t":4.0752,"a":-9.3},{"t":4.0767,"a":-3.3},{"t":4.0811,"a":-3.3},{"t":4.0826,"a":-11.3},{"t":4.0841,"a":-21.5},{"t":4.0856,"a":-26.5},{"t":4.0877,"a":-32.5},{"t":4.0892,"a":-19.6},{"t":4.0907,"a":-0.7},{"t":4.0922,"a":7.9},{"t":4.0934,"a":16.5},{"t":4.0945,"a":7.9},{"t":4.0960,"a":-31.4},{"t":4.0969,"a":-2.4},{"t":4.0987,"a":1},{"t":4.1005,"a":7.9},{"t":4.1026,"a":17.4},{"t":4.1041,"a":11.3},{"t":4.1059,"a":1},{"t":4.1074,"a":-9.3},{"t":4.1089,"a":-11.3},{"t":4.1101,"a":-7.6},{"t":4.1115,"a":-11.3},{"t":4.1130,"a":-3.3},{"t":4.1145,"a":-5.8},{"t":4.1163,"a":-9.3},{"t":4.1178,"a":7.9},{"t":4.1190,"a":16.5},{"t":4.1202,"a":26.8},{"t":4.1214,"a":14.8},{"t":4.1229,"a":6.7},{"t":4.1258,"a":6.7},{"t":4.1273,"a":-9.3},{"t":4.1288,"a":-21.5},{"t":4.1303,"a":-26.5},{"t":4.1315,"a":-32.5},{"t":4.1333,"a":4.5},{"t":4.1348,"a":1},{"t":4.1363,"a":-3.3},{"t":4.1378,"a":-7.6},{"t":4.1393,"a":-11.3},{"t":4.1428,"a":-11.3},{"t":4.1443,"a":-7.6},{"t":4.1455,"a":-3.3},{"t":4.1470,"a":-21.5},{"t":4.1482,"a":-31.4},{"t":4.1497,"a":-19.6},{"t":4.1509,"a":-3.3},{"t":4.1521,"a":-11.3},{"t":4.1535,"a":-19.6},{"t":4.1550,"a":-21.5},{"t":4.1565,"a":-31.4},{"t":4.1577,"a":-41.6},{"t":4.1592,"a":-21.5},{"t":4.1607,"a":-11.3},{"t":4.1622,"a":-7.6},{"t":4.1637,"a":-3.3},{"t":4.1667,"a":-3.3},{"t":4.1684,"a":-9.3},{"t":4.1705,"a":-21.5},{"t":4.1720,"a":-31.4},{"t":4.1735,"a":-21.5},{"t":4.1750,"a":-21.5},{"t":4.1768,"a":-41.6},{"t":4.1780,"a":-33.3},{"t":4.1792,"a":-9.3},{"t":4.1804,"a":16.5},{"t":4.1819,"a":4.5},{"t":4.1834,"a":7.9},{"t":4.1848,"a":14.8},{"t":4.1863,"a":16.5},{"t":4.1878,"a":7.9},{"t":4.1893,"a":-5.8},{"t":4.1908,"a":-11.3},{"t":4.1923,"a":-19.6},{"t":4.1938,"a":-26.5},{"t":4.1953,"a":-32.5},{"t":4.1968,"a":-9.3},{"t":4.1983,"a":7.9},{"t":4.1997,"a":16.5},{"t":4.2009,"a":26.8},{"t":4.2024,"a":-3.3},{"t":4.2039,"a":-21.5},{"t":4.2054,"a":-26.5},{"t":4.2066,"a":-31.4},{"t":4.2081,"a":-11.3},{"t":4.2093,"a":-3.3},{"t":4.2108,"a":-11.3},{"t":4.2123,"a":-11.3},{"t":4.2137,"a":-3.3},{"t":4.2149,"a":-9.3},{"t":4.2167,"a":-16.2},{"t":4.2176,"a":-41.6},{"t":4.2191,"a":-19.6},{"t":4.2203,"a":-3.3},{"t":4.2218,"a":-5.8},{"t":4.2233,"a":-11.3},{"t":4.2251,"a":-26.5},{"t":4.2260,"a":-41.6},{"t":4.2269,"a":26.8},{"t":4.2280,"a":7.9},{"t":4.2292,"a":-11.3},{"t":4.2322,"a":-11.3},{"t":4.2334,"a":-16.2},{"t":4.2346,"a":-31.4},{"t":4.2361,"a":-23},{"t":4.2376,"a":-9.3},{"t":4.2391,"a":7.9},{"t":4.2406,"a":26.8},{"t":4.2421,"a":21.6},{"t":4.2435,"a":14.8},{"t":4.2450,"a":11.3},{"t":4.2465,"a":-21.5},{"t":4.2495,"a":-21.5},{"t":4.2510,"a":-16.2},{"t":4.2525,"a":-9.3},{"t":4.2540,"a":-3.3},{"t":4.2555,"a":-3.3},{"t":4.2570,"a":1},{"t":4.2584,"a":1},{"t":4.2599,"a":4.5},{"t":4.2614,"a":6.7},{"t":4.2629,"a":-3.3},{"t":4.2644,"a":26.8},{"t":4.2659,"a":16.5},{"t":4.2674,"a":6.7},{"t":4.2689,"a":-0.7},{"t":4.2704,"a":-11.3},{"t":4.2719,"a":-21.5},{"t":4.2733,"a":-9.3},{"t":4.2748,"a":7.9},{"t":4.2763,"a":16.5},{"t":4.2808,"a":16.5},{"t":4.2823,"a":6.7},{"t":4.2835,"a":-11.3},{"t":4.2847,"a":6.7},{"t":4.2859,"a":-5.8},{"t":4.2870,"a":6.7},{"t":4.2882,"a":6.7},{"t":4.2897,"a":-11.3},{"t":4.2912,"a":1},{"t":4.2927,"a":6.7},{"t":4.2942,"a":-11.3},{"t":4.2957,"a":1},{"t":4.2972,"a":-9.3},{"t":4.2987,"a":1},{"t":4.3002,"a":25.1},{"t":4.3017,"a":-11.3},{"t":4.3031,"a":1},{"t":4.3046,"a":6.7},{"t":4.3076,"a":6.7},{"t":4.3091,"a":-11.3},{"t":4.3106,"a":-21.5},{"t":4.3121,"a":-26.5},{"t":4.3136,"a":-32.5},{"t":4.3151,"a":-26.5},{"t":4.3166,"a":-21.5},{"t":4.3180,"a":-11.3},{"t":4.3195,"a":-0.7},{"t":4.3210,"a":36.6},{"t":4.3240,"a":36.6},{"t":4.3255,"a":14.8},{"t":4.3270,"a":-9.3},{"t":4.3285,"a":7.9},{"t":4.3300,"a":16.5},{"t":4.3315,"a":7.9},{"t":4.3329,"a":-3.3},{"t":4.3380,"a":-3.3},{"t":4.3389,"a":36.6},{"t":4.3404,"a":16.5},{"t":4.3419,"a":11.3},{"t":4.3434,"a":21.6},{"t":4.3449,"a":26.8},{"t":4.3464,"a":16.5},{"t":4.3478,"a":6.7},{"t":4.3553,"a":6.7},{"t":4.3568,"a":-5.8},{"t":4.3583,"a":-12.7},{"t":4.3592,"a":-21.5},{"t":4.3604,"a":1},{"t":4.3616,"a":36.6},
{"t":4.3625,"a":32},{"t":4.3640,"a":14.8},{"t":4.3655,"a":4.5},{"t":4.3670,"a":-2.4},{"t":4.3685,"a":-7.6},{"t":4.3700,"a":-11.3},{"t":4.3729,"a":-11.3},{"t":4.3744,"a":-16.2},{"t":4.3759,"a":-21.5},{"t":4.3768,"a":6.7},{"t":4.3789,"a":6.7},{"t":4.3804,"a":11.3},{"t":4.3819,"a":17.4},{"t":4.3834,"a":7.9},{"t":4.3849,"a":-9.3},{"t":4.3863,"a":-14.4},{"t":4.3878,"a":-21.5},{"t":4.3893,"a":-9.3},{"t":4.3908,"a":6.7},{"t":4.3923,"a":-11.3},{"t":4.3938,"a":-2.4},{"t":4.3953,"a":1},{"t":4.3968,"a":7.9},{"t":4.3983,"a":-3.3},{"t":4.3998,"a":7.9},{"t":4.4012,"a":13.1},{"t":4.4027,"a":16.5},{"t":4.4057,"a":16.5},{"t":4.4072,"a":-0.7},{"t":4.4081,"a":-11.3},{"t":4.4096,"a":-5.8},{"t":4.4111,"a":-3.3},{"t":4.4126,"a":-9.3},{"t":4.4141,"a":-11.3},{"t":4.4155,"a":1},{"t":4.4167,"a":7.9},{"t":4.4182,"a":1},{"t":4.4197,"a":-5.8},{"t":4.4212,"a":-11.3},{"t":4.4227,"a":-5.8},{"t":4.4242,"a":7.9},{"t":4.4257,"a":16.5},{"t":4.4287,"a":16.5},{"t":4.4301,"a":-5.8},{"t":4.4316,"a":-11.3},{"t":4.4331,"a":-7.6},{"t":4.4346,"a":-11.3},{"t":4.4361,"a":-5.8},{"t":4.4376,"a":4.5},{"t":4.4394,"a":16.5},{"t":4.4424,"a":16.5},{"t":4.4442,"a":1},{"t":4.4456,"a":-3.3},{"t":4.4471,"a":1},{"t":4.4483,"a":16.5},{"t":4.4495,"a":-9.3},{"t":4.4507,"a":-21.5},{"t":4.4519,"a":-3.3},{"t":4.4573,"a":-3.3},{"t":4.4588,"a":-9.3},{"t":4.4602,"a":-11.3},{"t":4.4623,"a":-5.8},{"t":4.4638,"a":1},{"t":4.4653,"a":7.9},{"t":4.4668,"a":16.5},{"t":4.4680,"a":26.8},{"t":4.4692,"a":6.7},{"t":4.4707,"a":1},{"t":4.4722,"a":-2.4},{"t":4.4737,"a":-11.3},{"t":4.4751,"a":-5.8},{"t":4.4766,"a":-9.3},{"t":4.4781,"a":-5.8},{"t":4.4793,"a":-19.6},{"t":4.4805,"a":-31.4},{"t":4.4817,"a":-19.6},{"t":4.4832,"a":-9.3},{"t":4.4847,"a":7.9},{"t":4.4862,"a":16.5},{"t":4.4877,"a":21.6},{"t":4.4892,"a":26.8},{"t":4.4900,"a":-3.3},{"t":4.4915,"a":-11.3},{"t":4.4930,"a":-7.6},{"t":4.4945,"a":-3.3},{"t":4.4972,"a":-3.3},{"t":4.4987,"a":1},{"t":4.5002,"a":4.5},{"t":4.5017,"a":-9.3},{"t":4.5032,"a":-3.3},{"t":4.5046,"a":1},{"t":4.5061,"a":6.2},{"t":4.5076,"a":9.6},{"t":4.5091,"a":16.5},{"t":4.5106,"a":7.9},{"t":4.5121,"a":-11.3},{"t":4.5151,"a":-11.3},{"t":4.5166,"a":-7.6},{"t":4.5181,"a":1},{"t":4.5195,"a":7.9},{"t":4.5210,"a":16.5},{"t":4.5225,"a":1},{"t":4.5237,"a":-11.3},{"t":4.5252,"a":-5.8},{"t":4.5267,"a":1},{"t":4.5282,"a":4.5},{"t":4.5294,"a":6.7},{"t":4.5309,"a":1},{"t":4.5324,"a":-5.8},{"t":4.5339,"a":-7.6},{"t":4.5353,"a":-11.3},{"t":4.5368,"a":-0.7},{"t":4.5383,"a":7.9},{"t":4.5398,"a":11.3},{"t":4.5413,"a":16.5},{"t":4.5428,"a":-11.3},{"t":4.5443,"a":1},{"t":4.5458,"a":4.5},{"t":4.5473,"a":6.7},{"t":4.5496,"a":6.7},{"t":4.5511,"a":11.3},{"t":4.5526,"a":16.5},{"t":4.5541,"a":7.9},{"t":4.5556,"a":1},{"t":4.5571,"a":-9.3},{"t":4.5586,"a":-21.5},{"t":4.5601,"a":-9.3},{"t":4.5616,"a":1},{"t":4.5631,"a":1},{"t":4.5645,"a":14.8},{"t":4.5660,"a":21.6},{"t":4.5675,"a":26.8},{"t":4.5690,"a":14.8},{"t":4.5705,"a":6.2},{"t":4.5720,"a":1},{"t":4.5735,"a":-3.3},{"t":4.5753,"a":-3.3},{"t":4.5768,"a":1},{"t":4.5783,"a":6.7},{"t":4.5806,"a":6.7},{"t":4.5818,"a":-11.3},{"t":4.5830,"a":7.9},{"t":4.5842,"a":26.8},{"t":4.5854,"a":6.2},{"t":4.5869,"a":-7.6},{"t":4.5884,"a":-16.2},{"t":4.5899,"a":-21.5},{"t":4.5914,"a":-3.3},{"t":4.5929,"a":6.7},{"t":4.5943,"a":-9.3},{"t":4.5958,"a":-21.5},{"t":4.5973,"a":-16.2},{"t":4.5988,"a":-11.3},{"t":4.6003,"a":-9.3},{"t":4.6018,"a":-5.8},{"t":4.6030,"a":6.7},{"t":4.6045,"a":-3.3},{"t":4.6075,"a":-3.3},{"t":4.6087,"a":1},{"t":4.6101,"a":16.5},{"t":4.6116,"a":1},{"t":4.6128,"a":-21.5},{"t":4.6143,"a":-26.5},{"t":4.6158,"a":-32.5},{"t":4.6173,"a":-21.5},{"t":4.6188,"a":16.5},{"t":4.6203,"a":6.7},{"t":4.6218,"a":-9.3},{"t":4.6233,"a":-7.6},{"t":4.6248,"a":-11.3},{"t":4.6263,"a":-5.8},{"t":4.6277,"a":6.2},{"t":4.6292,"a":-3.3},{"t":4.6307,"a":1},{"t":4.6322,"a":7.9},{"t":4.6337,"a":16.5},{"t":4.6352,"a":-3.3},{"t":4.6367,"a":1},{"t":4.6382,"a":-3.3},{"t":4.6397,"a":-16.2},{"t":4.6412,"a":-24.7},{"t":4.6426,"a":-31.4},{"t":4.6441,"a":-12.7},{"t":4.6456,"a":-3.3},{"t":4.6486,"a":-3.3},{"t":4.6501,"a":16.5},{"t":4.6516,"a":7.9},{"t":4.6531,"a":1},{"t":4.6546,"a":4.5},{"t":4.6561,"a":6.7},{"t":4.6590,"a":6.7},{"t":4.6605,"a":-9.3},{"t":4.6620,"a":-31.4},{"t":4.6635,"a":-11.3},{"t":4.6650,"a":16.5},{"t":4.6665,"a":1},{"t":4.6680,"a":-9.3},{"t":4.6695,"a":-12.7},{"t":4.6710,"a":-19.6},{"t":4.6724,"a":-26.5},{"t":4.6733,"a":-31.4},{"t":4.6745,"a":-19.6},{"t":4.6754,"a":-31.4},{"t":4.6763,"a":-41.6},{"t":4.6772,"a":-11.3},{"t":4.6784,"a":1},{"t":4.6796,"a":6.7},{"t":4.6808,"a":-3.3},{"t":4.6820,"a":-11.3},{"t":4.6858,"a":-11.3},{"t":4.6873,"a":6.7},{"t":4.6927,"a":6.7},{"t":4.6942,"a":-5.8},{"t":4.6957,"a":-11.3},{"t":4.6969,"a":6.7},{"t":4.6983,"a":1},{"t":4.6998,"a":-11.3},{"t":4.7013,"a":-21.5},{"t":4.7028,"a":-31.4},{"t":4.7043,"a":16.5},{"t":4.7058,"a":26.8},{"t":4.7088,"a":26.8},{"t":4.7103,"a":16.5},{"t":4.7118,"a":6.7},{"t":4.7132,"a":-11.3},{"t":4.7147,"a":6.7},{"t":4.7162,"a":16.5},{"t":4.7177,"a":-11.3},{"t":4.7189,"a":1},{"t":4.7201,"a":6.7},{"t":4.7231,"a":6.7},{"t":4.7246,"a":13.1},{"t":4.7261,"a":16.5},{"t":4.7276,"a":21.6},{"t":4.7287,"a":26.8},{"t":4.7299,"a":7.9},{"t":4.7311,"a":16.5},{"t":4.7323,"a":26.8},{"t":4.7332,"a":6.7},{"t":4.7347,"a":-9.3},{"t":4.7359,"a":-3.3},{"t":4.7371,"a":-31.4},{"t":4.7386,"a":-9.3},{"t":4.7401,"a":-3.3},{"t":4.7413,"a":-7.6},{"t":4.7425,"a":-11.3},{"t":4.7454,"a":-11.3},{"t":4.7469,"a":1},{"t":4.7484,"a":26.8},{"t":4.7493,"a":-21.5},{"t":4.7514,"a":-21.5},{"t":4.7529,"a":6.7},{"t":4.7544,"a":1},{"t":4.7559,"a":7.9},{"t":4.7574,"a":-9.3},{"t":4.7589,"a":1},{"t":4.7604,"a":6.7},{"t":4.7619,"a":-0.7},{"t":4.7634,"a":-5.8},{"t":4.7649,"a":-11.3},{"t":4.7664,"a":-21.5},{"t":4.7679,"a":18.2},{"t":4.7687,"a":26.8},{"t":4.7702,"a":1},{"t":4.7717,"a":-7.6},{"t":4.7732,"a":-11.3},
{"t":4.7736,"a":-11.3},{"t":4.7772,"a":-11.3},{"t":4.7787,"a":-7.6},{"t":4.7802,"a":-0.7},{"t":4.7816,"a":14.8},{"t":4.7831,"a":26.8},{"t":4.7843,"a":14.8},{"t":4.7855,"a":16.5},{"t":4.7867,"a":6.7},{"t":4.7879,"a":1},{"t":4.7891,"a":-3.3},{"t":4.7903,"a":1},{"t":4.7915,"a":4.5},{"t":4.7927,"a":6.7},{"t":4.7945,"a":6.7},{"t":4.7960,"a":-0.7},{"t":4.7974,"a":-11.3},{"t":4.7986,"a":1},{"t":4.7998,"a":16.5},{"t":4.8010,"a":37.1},{"t":4.8022,"a":59.5},{"t":4.8031,"a":76.6},{"t":4.8040,"a":86.6},{"t":4.8049,"a":76.6},{"t":4.8058,"a":66.3},{"t":4.8067,"a":25.1},{"t":4.8073,"a":4.5},{"t":4.8085,"a":-0.7},{"t":4.8097,"a":-3.3},{"t":4.8117,"a":-3.3},{"t":4.8129,"a":-29.9},{"t":4.8138,"a":-55.3},{"t":4.8147,"a":-81.4},{"t":4.8159,"a":-71.1},{"t":4.8171,"a":-60.8},{"t":4.8183,"a":-52.2},{"t":4.8195,"a":-45.4},{"t":4.8207,"a":-41.6},{"t":4.8237,"a":-41.6},{"t":4.8249,"a":-19.6},{"t":4.8260,"a":6.7},{"t":4.8290,"a":6.7},{"t":4.8302,"a":16.5},{"t":4.8317,"a":21.6},{"t":4.8326,"a":26.8},{"t":4.8338,"a":7.9},{"t":4.8350,"a":-4.1},{"t":4.8362,"a":1},{"t":4.8377,"a":6.7},{"t":4.8392,"a":11.3},{"t":4.8407,"a":16.5},{"t":4.8439,"a":16.5},{"t":4.8451,"a":26.8},{"t":4.8463,"a":36.6},{"t":4.8475,"a":26.8},{"t":4.8487,"a":7.9},{"t":4.8499,"a":-3.3},{"t":4.8526,"a":-3.3},{"t":4.8541,"a":-21.3},{"t":4.8556,"a":-41.6},{"t":4.8570,"a":-24.7},{"t":4.8585,"a":-11.3},{"t":4.8600,"a":-16.2},{"t":4.8615,"a":-9.3},{"t":4.8630,"a":26.8},{"t":4.8645,"a":14.8},{"t":4.8660,"a":1},{"t":4.8675,"a":-9.3},{"t":4.8690,"a":-21.5},{"t":4.8705,"a":-9.3},{"t":4.8719,"a":1},{"t":4.8737,"a":7.9},{"t":4.8761,"a":16.5},{"t":4.8779,"a":1},{"t":4.8794,"a":-3.3},{"t":4.8809,"a":-9.3},{"t":4.8821,"a":6.7},{"t":4.8845,"a":6.7},{"t":4.8862,"a":1},{"t":4.8883,"a":-3.3},{"t":4.8898,"a":1},{"t":4.8913,"a":11.3},{"t":4.8928,"a":26.8},{"t":4.8943,"a":4.5},{"t":4.8958,"a":-3.3},{"t":4.8988,"a":-3.3},{"t":4.8997,"a":-41.6},{"t":4.9005,"a":1},{"t":4.9017,"a":36.6},{"t":4.9029,"a":11.3},{"t":4.9041,"a":-9.3},{"t":4.9053,"a":-16.2},{"t":4.9065,"a":-9.3},{"t":4.9077,"a":1},{"t":4.9092,"a":6.7},{"t":4.9107,"a":7.9},{"t":4.9122,"a":1},{"t":4.9137,"a":16.5},{"t":4.9152,"a":7.9},{"t":4.9166,"a":17.4},{"t":4.9181,"a":1},{"t":4.9196,"a":-11.3},{"t":4.9211,"a":4.5},{"t":4.9226,"a":7.9},{"t":4.9241,"a":16.5},{"t":4.9256,"a":13.1},{"t":4.9271,"a":-3.3},{"t":4.9286,"a":1},{"t":4.9301,"a":7.9},{"t":4.9315,"a":13.1},{"t":4.9330,"a":17.4},{"t":4.9345,"a":1},{"t":4.9360,"a":-21.5},{"t":4.9375,"a":-26.5},{"t":4.9390,"a":-31.4},{"t":4.9405,"a":-24.7},{"t":4.9420,"a":-21.5},{"t":4.9435,"a":-9.3},{"t":4.9450,"a":-3.3},{"t":4.9464,"a":-7.6},{"t":4.9479,"a":-11.3},{"t":4.9509,"a":-11.3},{"t":4.9524,"a":-5.8},{"t":4.9539,"a":6.7},{"t":4.9548,"a":16.5},{"t":4.9560,"a":1},{"t":4.9575,"a":-19.6},{"t":4.9590,"a":-31.4},{"t":4.9605,"a":-12.7},{"t":4.9619,"a":-3.3},{"t":4.9634,"a":-5.8},{"t":4.9649,"a":1},{"t":4.9664,"a":6.7},{"t":4.9679,"a":4.5},{"t":4.9694,"a":7.9},{"t":4.9709,"a":1},{"t":4.9724,"a":7.9},{"t":4.9736,"a":26.8},{"t":4.9748,"a":7.9},{"t":4.9763,"a":16.5},{"t":4.9777,"a":1},{"t":4.9792,"a":-21.5},{"t":4.9807,"a":-5.8},{"t":4.9822,"a":16.5},{"t":4.9837,"a":1},{"t":4.9852,"a":-11.3},{"t":4.9876,"a":-11.3},{"t":4.9891,"a":-16.2},{"t":4.9906,"a":-21.5},{"t":4.9920,"a":-9.3},{"t":4.9935,"a":6.7},{"t":4.9950,"a":-12.7},{"t":4.9965,"a":-17.9},{"t":4.9980,"a":-21.5},{"t":4.9995,"a":-11.3},{"t":5.0010,"a":-21.5},{"t":5.0025,"a":-31.4},{"t":5.0040,"a":-19.6},{"t":5.0054,"a":-9.3},{"t":5.0069,"a":1},{"t":5.0084,"a":7.9},{"t":5.0099,"a":11.3},{"t":5.0114,"a":16.5},{"t":5.0123,"a":26.8},{"t":5.0138,"a":21.6},{"t":5.0153,"a":7.9},{"t":5.0168,"a":1},{"t":5.0183,"a":-12.7},{"t":5.0198,"a":-31.4},{"t":5.0212,"a":-21.5},{"t":5.0227,"a":-9.3},{"t":5.0242,"a":-5.8},{"t":5.0257,"a":7.9},{"t":5.0272,"a":1},{"t":5.0287,"a":-3.3},{"t":5.0344,"a":-3.3},{"t":5.0358,"a":-7.6},{"t":5.0379,"a":-11.3},{"t":5.0397,"a":-11.3},{"t":5.0412,"a":-7.6},{"t":5.0427,"a":-3.3},{"t":5.0454,"a":-3.3},{"t":5.0469,"a":-7.6},{"t":5.0484,"a":-11.3},{"t":5.0493,"a":-3.3},{"t":5.0516,"a":-3.3},{"t":5.0531,"a":-7.6},{"t":5.0546,"a":-11.3},{"t":5.0597,"a":-11.3},{"t":5.0615,"a":-16.2},{"t":5.0630,"a":-21.5},{"t":5.0644,"a":1},{"t":5.0656,"a":16.5},{"t":5.0671,"a":1},{"t":5.0686,"a":-11.3},{"t":5.0701,"a":1},{"t":5.0716,"a":6.7},{"t":5.0776,"a":6.7},{"t":5.0791,"a":1},{"t":5.0805,"a":-3.3},{"t":5.0835,"a":-3.3},{"t":5.0850,"a":-7.6},{"t":5.0865,"a":-11.3},{"t":5.0919,"a":-11.3},{"t":5.0934,"a":-7.6},{"t":5.0948,"a":-0.7},{"t":5.0963,"a":4.5},{"t":5.0978,"a":7.9},{"t":5.0990,"a":-5.8},{"t":5.1005,"a":-21.5},{"t":5.1020,"a":-26.5},{"t":5.1035,"a":-31.4},{"t":5.1050,"a":-21.5},{"t":5.1065,"a":16.5},{"t":5.1080,"a":-9.3},{"t":5.1095,"a":-16.2},{"t":5.1109,"a":-7.6},{"t":5.1124,"a":1},{"t":5.1139,"a":6.7},{"t":5.1154,"a":11.3},{"t":5.1169,"a":17.4},{"t":5.1187,"a":26.8},{"t":5.1202,"a":7.9},{"t":5.1217,"a":-9.3},{"t":5.1229,"a":-21.5},{"t":5.1240,"a":-31.4},{"t":5.1252,"a":6.7},{"t":5.1267,"a":-11.3},{"t":5.1303,"a":-11.3},{"t":5.1315,"a":-0.7},{"t":5.1330,"a":16.5},{"t":5.1345,"a":26.8},{"t":5.1357,"a":36.6},{"t":5.1372,"a":14.8},{"t":5.1387,"a":-2.4},{"t":5.1401,"a":-5.8},{"t":5.1416,"a":-31.4},{"t":5.1446,"a":-31.4},{"t":5.1461,"a":1},{"t":5.1476,"a":6.7},{"t":5.1485,"a":-9.3},{"t":5.1500,"a":-21.5},{"t":5.1515,"a":-9.3},{"t":5.1530,"a":1},{"t":5.1545,"a":16.5},{"t":5.1560,"a":26.8},{"t":5.1574,"a":7.9},{"t":5.1589,"a":-9.3},{"t":5.1604,"a":-21.5},{"t":5.1619,"a":1},{"t":5.1634,"a":16.5},{"t":5.1649,"a":7.9},{"t":5.1664,"a":-11.3},{"t":5.1679,"a":1},{"t":5.1694,"a":11.3},{"t":5.1709,"a":16.5},{"t":5.1724,"a":7.9}
]},
"mark": {"type": "line", "color": "black", "strokeWidth": 1.7, "clip": true, "interpolate": "linear"},
"encoding": {
  "x": {
    "field": "t", "type": "quantitative",
    "scale": {"domain": [2.3096, 5.1728], "nice": false, "zero": false},
    "axis": {
      "title": "time [s]",
      "values": [2.5, 3, 3.5, 4, 4.5, 5],
      "format": "~g",
      "grid": true, "gridColor": "black", "gridOpacity": 1, "gridWidth": 2, "gridDash": [24, 24],
      "ticks": false, "tickSize": 0,
      "domain": true, "domainColor": "black", "domainWidth": 2.5,
      "labelFont": "Liberation Sans", "labelFontSize": 40, "labelColor": "black",
      "labelPadding": 46, "labelBaseline": "alphabetic", "labelFlush": false, "labelOverlap": false,
      "titleFont": "Liberation Sans", "titleFontSize": 44, "titleFontWeight": "normal", "titleColor": "black",
      "titleBaseline": "alphabetic", "titleY": 102
    }
  },
  "y": {
    "field": "a", "type": "quantitative",
    "scale": {"domain": [-98.1, 113.6], "nice": false, "zero": false},
    "axis": {
      "title": "z-acceleration [mg]",
      "values": [-50, 0, 50, 100],
      "labelExpr": "datum.value < 0 ? '-' + (-datum.value) : '' + datum.value",
      "grid": true, "gridColor": "black", "gridOpacity": 1, "gridWidth": 1.3, "gridDash": [25, 23],
      "ticks": false, "tickSize": 0,
      "domain": true, "domainColor": "black", "domainWidth": 2,
      "labelFont": "Liberation Sans", "labelFontSize": 40, "labelColor": "black",
      "labelPadding": 16, "labelBaseline": "middle", "labelFlush": false, "labelOverlap": false,
      "titleFont": "Liberation Sans", "titleFontSize": 44, "titleFontWeight": "normal", "titleColor": "black",
      "titleAngle": -90, "titleBaseline": "middle", "titleX": -124, "titleY": 211
    }
  }
}
}
